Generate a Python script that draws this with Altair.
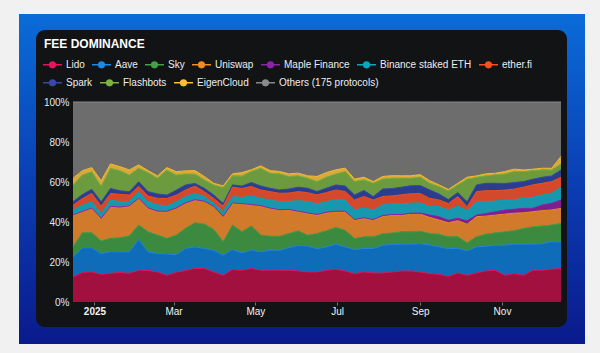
import altair as alt
import pandas as pd

# ---------------- data (weekly fee share, %) ----------------
weeks = pd.date_range("2024-12-16", periods=53, freq="7D").strftime("%Y-%m-%d").tolist()

series_names = ["Lido", "Aave", "Sky", "Uniswap", "Maple Finance", "Binance staked ETH",
                "ether.fi", "Spark", "Flashbots", "EigenCloud", "Others (175 protocols)"]

lido = [12.5, 14.7, 15.0, 13.8, 14.3, 14.7, 14.3, 15.8, 15.7, 15.0,
        13.3, 14.8, 15.7, 16.7, 16.7, 15.0, 13.3, 16.2, 15.8, 16.7,
        15.8, 15.8, 15.8, 15.8, 15.5, 15.0, 15.0, 15.8, 16.3, 15.5,
        14.2, 15.0, 14.5, 14.5, 15.0, 15.5, 15.5, 15.0, 14.2, 13.8,
        12.8, 14.5, 13.3, 14.5, 15.5, 15.8, 13.3, 14.2, 13.3, 15.8,
        15.8, 16.3, 16.7]
aave = [10.0, 12.3, 12.0, 10.3, 10.7, 10.3, 10.7, 15.3, 9.3, 9.2,
        10.7, 8.8, 11.0, 10.8, 10.0, 10.8, 10.0, 10.0, 8.7, 9.2,
        9.2, 10.0, 10.0, 11.3, 12.8, 12.8, 11.7, 11.7, 12.5, 12.0,
        12.0, 11.7, 12.2, 13.8, 13.8, 13.3, 13.3, 14.2, 14.2, 13.7,
        13.8, 12.2, 12.2, 13.0, 12.3, 12.5, 15.0, 14.7, 15.5, 13.0,
        13.3, 13.7, 13.3]
sky = [5.0, 7.5, 7.5, 6.3, 6.7, 7.0, 7.8, 7.2, 10.0, 9.2,
       7.7, 9.7, 10.0, 12.0, 12.2, 10.3, 6.7, 12.2, 10.5, 12.0,
       8.3, 7.0, 7.0, 7.0, 7.2, 5.5, 7.5, 8.0, 8.3, 8.3,
       5.5, 5.8, 5.8, 5.8, 5.7, 6.2, 6.2, 6.2, 5.8, 6.3,
       5.8, 5.8, 4.0, 5.0, 6.0, 6.2, 6.7, 6.7, 7.8, 8.7,
       8.7, 8.3, 9.2]
uniswap = [15.8, 10.5, 12.2, 11.2, 15.8, 15.2, 15.0, 13.3, 11.7, 11.7,
           13.3, 13.3, 12.5, 11.3, 11.2, 11.3, 12.5, 10.8, 13.8, 10.5,
           14.5, 13.8, 13.0, 11.7, 9.5, 10.8, 9.2, 9.0, 7.8, 9.2,
           9.2, 9.2, 8.3, 8.7, 8.8, 8.3, 8.8, 8.5, 8.0, 7.0,
           7.0, 8.0, 9.3, 10.0, 9.0, 8.8, 8.8, 8.7, 7.8, 7.5,
           7.7, 7.5, 7.5]
maple = [0.1, 0.1, 0.1, 0.1, 0.1, 0.1, 0.1, 0.1, 0.2, 0.2,
         0.2, 0.2, 0.2, 0.2, 0.2, 0.2, 0.2, 0.2, 0.2, 0.2,
         0.2, 0.2, 0.3, 0.3, 0.3, 0.3, 0.3, 0.3, 0.3, 0.3,
         0.3, 0.3, 0.3, 0.4, 0.4, 0.4, 0.5, 0.6, 1.2, 1.7,
         1.3, 1.2, 1.7, 0.8, 1.3, 1.7, 2.0, 2.0, 2.2, 1.7,
         2.8, 3.3, 4.2]
binance = [2.3, 3.1, 3.1, 2.3, 3.1, 2.6, 2.0, 3.1, 3.1, 3.1,
           2.6, 3.1, 3.1, 3.1, 2.3, 1.5, 2.3, 3.1, 3.1, 4.3,
           3.6, 4.0, 4.0, 4.0, 5.3, 5.6, 5.3, 5.3, 5.6, 5.6,
           4.8, 4.8, 4.8, 5.3, 5.3, 5.3, 5.0, 5.0, 4.1, 5.0,
           5.0, 6.1, 5.0, 6.7, 5.9, 5.3, 5.0, 4.7, 5.0, 5.5,
           5.0, 5.0, 6.3]
etherfi = [2.5, 3.3, 4.2, 3.7, 3.3, 3.7, 3.3, 2.8, 2.8, 3.3,
           3.8, 3.3, 3.3, 3.7, 2.5, 2.5, 2.8, 4.7, 4.5, 4.7,
           4.2, 4.2, 4.2, 4.2, 4.5, 4.5, 4.5, 4.5, 5.0, 4.2,
           5.0, 5.8, 5.0, 4.2, 4.0, 4.5, 4.7, 4.7, 4.2, 3.3,
           3.3, 4.7, 2.0, 5.0, 5.5, 5.2, 5.0, 5.3, 5.5, 6.2,
           5.8, 5.8, 5.0]
spark = [1.7, 2.0, 2.0, 2.2, 2.5, 1.8, 1.7, 2.2, 2.2, 2.2,
         1.7, 2.5, 2.5, 1.3, 1.7, 1.7, 1.3, 1.2, 1.2, 2.0,
         2.0, 1.7, 1.7, 2.0, 2.2, 2.2, 1.7, 2.2, 2.5, 2.8,
         2.5, 3.0, 1.7, 3.7, 3.7, 3.8, 4.0, 4.0, 4.2, 3.0,
         2.0, 2.0, 2.5, 3.3, 3.7, 3.7, 3.3, 3.3, 2.8, 2.8,
         3.0, 2.8, 3.7]
flashbots = [8.3, 9.7, 8.8, 7.8, 10.0, 10.0, 8.3, 6.7, 9.5, 7.8,
             12.5, 7.5, 5.5, 4.7, 4.2, 5.0, 8.0, 4.5, 5.0, 5.5,
             8.8, 7.5, 8.0, 6.3, 5.7, 5.0, 5.0, 5.5, 5.5, 7.2,
             6.7, 5.3, 6.7, 5.0, 5.2, 4.5, 3.8, 4.3, 3.3, 3.7,
             4.3, 3.8, 11.2, 3.8, 3.7, 4.2, 4.7, 5.5, 5.0, 4.3,
             3.7, 3.0, 3.0]
eigencloud = [3.3, 2.2, 2.0, 2.7, 2.2, 2.0, 2.5, 1.7, 1.0, 1.2,
              1.2, 1.7, 1.5, 1.7, 1.7, 0.8, 0.7, 1.0, 1.7, 0.8,
              1.2, 1.3, 1.2, 1.3, 1.3, 1.2, 2.5, 2.3, 2.0, 1.7,
              1.2, 1.3, 0.8, 1.3, 1.2, 1.2, 1.2, 1.2, 1.3, 0.8,
              0.7, 0.8, 1.0, 0.7, 1.0, 0.8, 1.2, 1.2, 0.8, 0.7,
              0.8, 0.8, 3.7]
others = [38.0, 34.2, 32.7, 39.2, 30.8, 32.2, 33.8, 31.3, 34.2, 36.8,
          32.7, 34.7, 34.3, 34.2, 37.2, 40.5, 41.8, 35.8, 35.2, 33.8,
          31.8, 34.2, 34.7, 35.8, 35.5, 36.8, 37.2, 35.2, 33.8, 33.0,
          38.5, 37.5, 39.7, 37.2, 36.8, 36.8, 36.8, 36.3, 39.2, 41.3,
          43.5, 40.5, 37.5, 36.8, 35.8, 35.5, 34.7, 33.5, 33.8, 33.5,
          33.0, 33.0, 27.2]

series_values = [lido, aave, sky, uniswap, maple, binance, etherfi, spark,
                 flashbots, eigencloud, others]

line_colors = ["#e3165a", "#1e88e5", "#43a047", "#f08c25", "#8e24aa", "#00acc1",
               "#f4511e", "#3949ab", "#7cb342", "#fbc02d", "#8a8a8a"]
fill_colors = ["#a1103e", "#0f6cb9", "#3b8a40", "#d27a2b", "#7d1f8f", "#1898ae",
               "#d24a2b", "#2b3d8d", "#6b9b3e", "#dba93a", "#6d6d6d"]

legend_row1 = series_names[:7]
legend_row2 = series_names[7:]

tick_dates = [alt.DateTime(year=2025, month=m, date=1, utc=True) for m in (1, 3, 5, 7, 9, 11)]

rows = []
for k, (name, vals) in enumerate(zip(series_names, series_values)):
    for d, v in zip(weeks, vals):
        rows.append({"date": d, "series": name, "value": v, "order": k})
df = pd.DataFrame(rows)

FONT = "Liberation Sans"

base = alt.Chart(df).transform_stack(
    stack="value", groupby=["date"], as_=["y0", "y1"],
    sort=[alt.SortField("order", order="ascending")], offset="normalize"
)

x_enc = alt.X(
    "date:T",
    scale=alt.Scale(type="utc", nice=False),
    title=None,
    axis=alt.Axis(
        values=tick_dates,
        labelExpr="utcmonth(datum.value) == 0 ? utcFormat(datum.value, '%Y') : utcFormat(datum.value, '%b')",
        labelFontWeight={"condition": {"test": "utcmonth(datum.value) == 0", "value": "bold"}, "value": "normal"},
        labelColor="#f2f2f2", labelFontSize=10, labelFont=FONT,
        tickColor="#777777", tickSize=3, domain=False, grid=False, labelPadding=1,
        zindex=2,
    ),
)
y_enc = alt.Y(
    "y1:Q",
    scale=alt.Scale(domain=[0, 1]),
    title=None,
    axis=alt.Axis(
        values=[0, 0.2, 0.4, 0.6, 0.8, 1.0], format=".0%",
        labelColor="#e8e8e8", labelFontSize=10, labelFont=FONT,
        ticks=False, domain=False, grid=False, labelPadding=4, zindex=2,
    ),
)

# fill keyed on the series order (data-derived domain) so its hidden legend does not merge with the visible ones
areas = base.mark_area(interpolate="linear").encode(
    x=x_enc,
    y=y_enc,
    y2="y0:Q",
    fill=alt.Fill("order:O", scale=alt.Scale(range=fill_colors), legend=None),
)

# line through a dot; the dot is drawn as concentric stroked rings so it looks filled
legend_path = (
    "M-1,0H1"
    "M0.3,0A0.3,0.3,0,1,1,-0.3,0A0.3,0.3,0,1,1,0.3,0"
    "M0.22,0A0.22,0.22,0,1,1,-0.22,0A0.22,0.22,0,1,1,0.22,0"
    "M0.14,0A0.14,0.14,0,1,1,-0.14,0A0.14,0.14,0,1,1,0.14,0"
    "M0.06,0A0.06,0.06,0,1,1,-0.06,0A0.06,0.06,0,1,1,0.06,0"
)


def row_legend(values, y):
    return alt.Legend(
        title=None, orient="none", legendX=-31, legendY=y,
        direction="horizontal", values=values,
        symbolType=legend_path, symbolSize=361, symbolStrokeWidth=1.5,
        symbolOpacity=1,
        labelFontSize=10, labelColor="#eeeeee", labelFont=FONT,
        labelOffset=3, columnPadding=4, zindex=2,
    )


lines = base.mark_line(interpolate="linear", strokeWidth=1).encode(
    x=x_enc,
    y=y_enc,
    stroke=alt.Stroke(
        "series:N",
        scale=alt.Scale(domain=series_names, range=line_colors),
        legend=row_legend(legend_row1, -48),
    ),
)

# second legend row (no marks drawn: the layer's data is filtered out)
legend2 = alt.Chart(df).transform_filter("false").mark_point().encode(
    color=alt.Color(
        "series:N",
        scale=alt.Scale(domain=legend_row2, range=line_colors[7:]),
        legend=row_legend(legend_row2, -30),
    )
)

one = pd.DataFrame({"k": [0]})
frame = alt.Chart(one).mark_rect(
    color=alt.LinearGradient(
        gradient="linear", x1=0, y1=0, x2=0, y2=1,
        stops=[alt.GradientStop(color="#0a6cd8", offset=0),
               alt.GradientStop(color="#0a3fb4", offset=0.5),
               alt.GradientStop(color="#0a1a8c", offset=1)],
    )
).encode(x=alt.value(-54), x2=alt.value(512), y=alt.value(-88), y2=alt.value(242))

panel = alt.Chart(one).mark_rect(color="#111315", cornerRadius=9).encode(
    x=alt.value(-37), x2=alt.value(494), y=alt.value(-72), y2=alt.value(225)
)

chart = alt.layer(frame, panel, areas, lines, legend2).properties(
    width=488, height=200,
    autosize=alt.AutoSizeParams(type="none"),
    padding={"left": 73, "top": 102, "right": 39, "bottom": 51},
    background="#f1f1f1",
    title=alt.TitleParams(
        "FEE DOMINANCE", anchor="start", frame="group", dx=-29, offset=-46,
        fontSize=12, fontWeight="bold", color="#ffffff", font=FONT,
        baseline="alphabetic", zindex=2,
    ),
).configure_view(stroke=None)

chart.save("out.html", embed_options={"renderer": "svg", "actions": False})
